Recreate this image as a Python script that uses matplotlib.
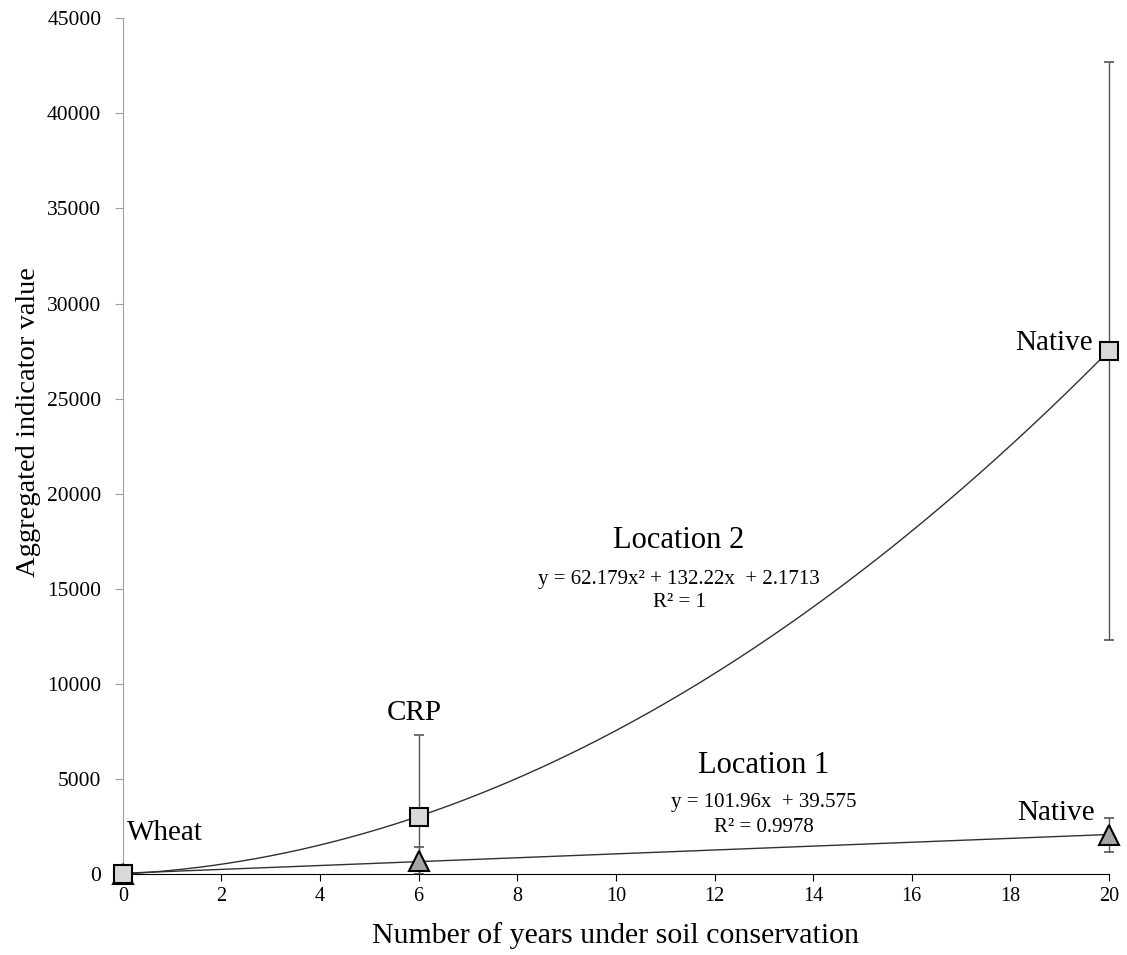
import numpy as np
import matplotlib.pyplot as plt
from matplotlib.patches import Rectangle

plt.rcParams['font.family'] = ['Liberation Serif', 'DejaVu Serif']

# dati
anni = [0, 6, 20]
loc1_val = [0, 700, 2050]
loc1_err = [0, 700, 900]
loc2_val = [0, 3000, 27500]
loc2_err = [0, 4300, 15200]
siti = ['Wheat', 'CRP', 'Native']

# coefficienti delle linee di tendenza
coef_loc1 = [101.96, 39.575]
coef_loc2 = [62.179, 132.22, 2.1713]

fig = plt.figure(figsize=(11.27, 9.55), dpi=100)
ax = fig.add_axes([0.109, 0.0848, 0.875, 0.896])

xx = np.linspace(0, 20, 400)
ax.plot(xx, np.polyval(coef_loc2, xx), color='#303030', lw=1.0, zorder=2)
ax.plot(xx, np.polyval(coef_loc1, xx), color='#303030', lw=1.0, zorder=2)

# barre di errore: tagliate sotto y=0 ma non a destra
clip = Rectangle((-0.05, 0), 1.1, 1.05, transform=ax.transAxes, visible=False)
ax.add_patch(clip)
for val, err in [(loc2_val, loc2_err), (loc1_val, loc1_err)]:
    cont = ax.errorbar(anni, val, yerr=err, fmt='none', ecolor='#555555',
                       elinewidth=1.0, capsize=3.3, capthick=1.2, zorder=2.5)
    for art in cont.get_children():
        art.set_clip_path(clip)

ax.plot(anni, loc1_val, '^', ms=15, mfc='#a6a6a6', mec='black', mew=1.5, clip_on=False, zorder=3)
ax.plot(anni, loc2_val, 's', ms=12.5, mfc='#d9d9d9', mec='black', mew=1.5, clip_on=False, zorder=3.1)

ax.set_xlim(0, 20)
ax.set_ylim(0, 45000)
ax.set_xticks(range(0, 21, 2))
ax.set_yticks(range(0, 45001, 5000))

for s in ['top', 'right']:
    ax.spines[s].set_visible(False)
ax.spines['left'].set_color('#a0a0a0')
ax.spines['bottom'].set_color('black')
ax.tick_params(axis='y', colors='#a0a0a0', labelcolor='black', length=6, pad=9.5, labelsize=15.5)
ax.tick_params(axis='x', length=5, pad=4.5, labelsize=14.5)

fig.text(0.5457, 0.0126, 'Number of years under soil conservation', fontsize=21.5,
         ha='center', va='baseline')
fig.text(0.0250, 0.558, 'Aggregated indicator value', fontsize=20.5,
         ha='center', va='center', rotation=90)

# etichette
ax.text(0.08, 1790, siti[0], fontsize=21, ha='left', va='baseline')
ax.text(5.92, 8100, siti[1], fontsize=21, ha='center', va='baseline')
ax.text(19.68, 27550, siti[2], fontsize=21, ha='right', va='baseline')
ax.text(19.72, 2840, siti[2], fontsize=21, ha='right', va='baseline')

ax.text(11.28, 17140, 'Location 2', fontsize=22, ha='center', va='baseline')
ax.text(11.28, 15230, f'y = {coef_loc2[0]}x² + {coef_loc2[1]}x  + {coef_loc2[2]}',
        fontsize=15, ha='center', va='baseline')
ax.text(11.28, 14030, 'R² = 1', fontsize=15, ha='center', va='baseline')

ax.text(13.0, 5310, 'Location 1', fontsize=22, ha='center', va='baseline')
ax.text(13.0, 3520, f'y = {coef_loc1[0]}x  + {coef_loc1[1]}',
        fontsize=15, ha='center', va='baseline')
ax.text(13.0, 2200, 'R² = 0.9978', fontsize=15, ha='center', va='baseline')

fig.savefig('out.png', dpi=100)
